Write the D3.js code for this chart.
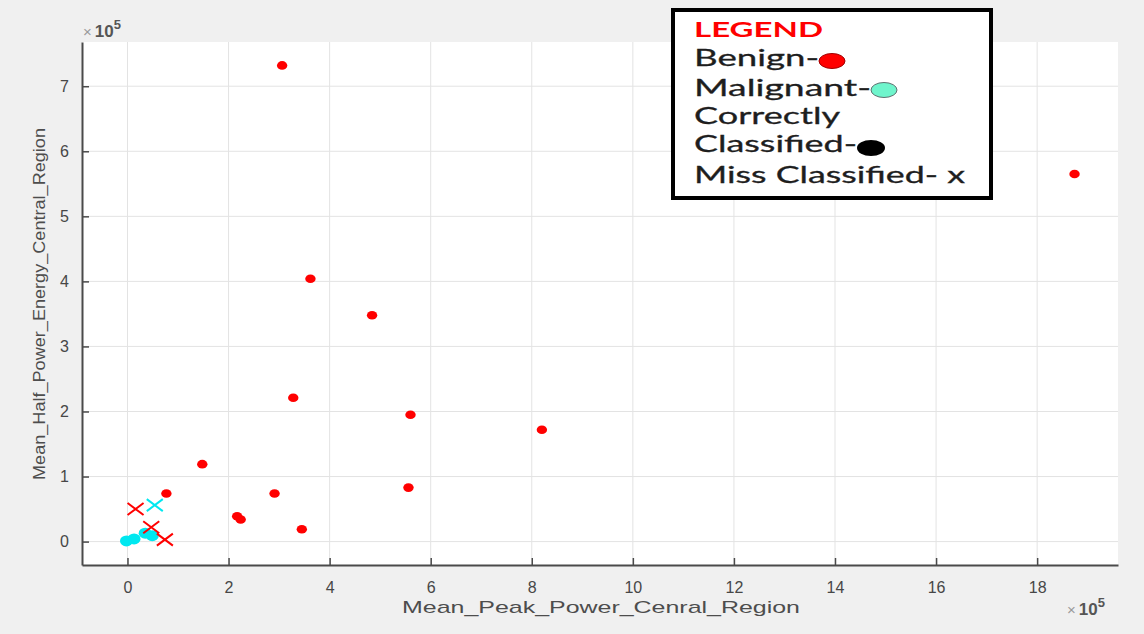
<!DOCTYPE html>
<html><head><meta charset="utf-8">
<script src="https://cdn.jsdelivr.net/npm/d3@7"></script>
<style>
html,body{margin:0;padding:0;background:#f0f0f0;}
svg{display:block;font-family:"Liberation Sans",Arial,sans-serif;}
</style></head>
<body>
<svg id="chart" width="1144" height="634"></svg>
<script>
// ---- data (raw values) ----
const benignX = [306000, 1874000, 362000, 484000, 328000, 560000, 820000, 148000, 77000, 291000, 556000, 217000, 224000, 345000];
const benignY = [732000, 565000, 404000, 348000, 221000, 195000, 172000, 119000, 74000, 74000, 83000, 39000, 34000, 19000];
const benignMissX = [16000, 47000, 74000];
const benignMissY = [50000, 22000, 3000];
const malignantX = [-2000, 13000, 35000, 49000];
const malignantY = [1000, 4000, 13000, 9000];
const malignantMissX = [54000];
const malignantMissY = [56000];
const xTicks = [0, 2, 4, 6, 8, 10, 12, 14, 16, 18];
const yTicks = [0, 1, 2, 3, 4, 5, 6, 7];
const xLabel = "Mean_Peak_Power_Cenral_Region";
const yLabel = "Mean_Half_Power_Energy_Central_Region";
const legendTitle = "LEGEND";
const legendLines = ["Benign-", "Malignant-", "Correctly", "Classified-", "Miss Classified- x"];

const svg = d3.select("#chart");
const L = 82, R = 1118, T = 42, B = 565;
const x = d3.scaleLinear().domain([-0.9e5, 19.6e5]).range([L, R]);
const y = d3.scaleLinear().domain([-0.36e5, 7.68e5]).range([B, T]);

// plot background
svg.append("rect").attr("x", L).attr("y", T).attr("width", R - L).attr("height", B - T).attr("fill", "#ffffff");

// grid
const g = svg.append("g");
g.selectAll(".gx").data(xTicks).join("line")
  .attr("x1", d => x(d * 1e5)).attr("x2", d => x(d * 1e5)).attr("y1", T).attr("y2", B)
  .attr("stroke", "#e3e3e3").attr("stroke-width", 1);
g.selectAll(".gy").data(yTicks).join("line")
  .attr("y1", d => y(d * 1e5)).attr("y2", d => y(d * 1e5)).attr("x1", L).attr("x2", R)
  .attr("stroke", "#e3e3e3").attr("stroke-width", 1);

// axes
const xAxis = d3.axisBottom(x).tickValues(xTicks.map(d => d * 1e5)).tickFormat(d => d / 1e5).tickSizeInner(-7).tickSizeOuter(0).tickPadding(17);
const yAxis = d3.axisLeft(y).tickValues(yTicks.map(d => d * 1e5)).tickFormat(d => d / 1e5).tickSizeInner(-7).tickSizeOuter(0).tickPadding(13);
const gx = svg.append("g").attr("transform", `translate(0,${B})`).call(xAxis);
const gy = svg.append("g").attr("transform", `translate(${L},0)`).call(yAxis);
[gx, gy].forEach(a => {
  a.select(".domain").attr("stroke", "#4a4a4a").attr("stroke-width", 2);
  a.selectAll(".tick line").attr("stroke", "#4a4a4a").attr("stroke-width", 1.5);
  a.selectAll(".tick text").attr("fill", "#474747").attr("font-size", 16).attr("font-family", "Liberation Sans, Arial, sans-serif");
});

// axis labels
svg.append("text").attr("x", 601).attr("y", 613).attr("text-anchor", "middle")
  .attr("font-size", 17).attr("fill", "#4d4d4d").attr("textLength", 398).attr("lengthAdjust", "spacingAndGlyphs").text(xLabel);
svg.append("text").attr("transform", "translate(45,304) rotate(-90)").attr("text-anchor", "middle")
  .attr("font-size", 17).attr("fill", "#4d4d4d").attr("textLength", 352).attr("lengthAdjust", "spacingAndGlyphs").text(yLabel);

// exponent labels
function expo(xp, yp) {
  const t = svg.append("text").attr("x", xp).attr("y", yp).attr("font-size", 17).attr("fill", "#555");
  t.append("tspan").text("\u00d7").attr("fill", "#9a9a9a").attr("font-size", 15);
  t.append("tspan").text("10").attr("dx", 3).attr("font-weight", "bold");
  t.append("tspan").text("5").attr("dy", -8).attr("font-size", 13).attr("font-weight", "bold");
}
expo(83, 37);
expo(1067, 615);

// marks
const dots = svg.append("g");
dots.selectAll(".b").data(benignX.map((v, i) => [v, benignY[i]])).join("ellipse")
  .attr("cx", d => x(d[0])).attr("cy", d => y(d[1])).attr("rx", 5.2).attr("ry", 4.3).attr("fill", "#ff0000");
dots.selectAll(".m").data(malignantX.map((v, i) => [v, malignantY[i]])).join("ellipse")
  .attr("cx", d => x(d[0])).attr("cy", d => y(d[1])).attr("rx", 6.5).attr("ry", 5.5).attr("fill", "#00e8f0");
function cross(xs, ys, color) {
  const data = xs.map((v, i) => [v, ys[i]]);
  dots.selectAll(null).data(data).join("path")
    .attr("d", d => { const cx = x(d[0]), cy = y(d[1]); return `M${cx-8},${cy-6}L${cx+8},${cy+6}M${cx-8},${cy+6}L${cx+8},${cy-6}`; })
    .attr("stroke", color).attr("stroke-width", 2).attr("fill", "none");
}
cross(benignMissX, benignMissY, "#ff0000");
cross(malignantMissX, malignantMissY, "#00e8f0");

// legend
const lg = svg.append("g");
lg.append("rect").attr("x", 673).attr("y", 10).attr("width", 318).attr("height", 188)
  .attr("fill", "#ffffff").attr("stroke", "#000000").attr("stroke-width", 4);
lg.append("text").attr("x", 694).attr("y", 37).attr("font-size", 21).attr("font-weight", "bold")
  .attr("fill", "#ff0000").attr("font-family", "Lato, Open Sans, sans-serif").attr("textLength", 129).attr("lengthAdjust", "spacingAndGlyphs").text(legendTitle);
const lineY = [66, 96, 124, 152, 183];
const lineW = [125, 177, 146, 163, 271];
legendLines.forEach((s, i) => {
  lg.append("text").attr("x", 694).attr("y", lineY[i]).attr("font-size", 23).attr("fill", "#1e1e1e")
    .attr("stroke", "#1e1e1e").attr("stroke-width", 0.3)
    .attr("font-family", "Lato, Open Sans, sans-serif").attr("textLength", lineW[i]).attr("lengthAdjust", "spacingAndGlyphs").text(s);
});
lg.append("ellipse").attr("cx", 832).attr("cy", 61).attr("rx", 13).attr("ry", 7.5).attr("fill", "#ff0000").attr("stroke", "#a00000").attr("stroke-width", 1);
lg.append("ellipse").attr("cx", 884).attr("cy", 90).attr("rx", 13).attr("ry", 7.5).attr("fill", "#6ff5cc").attr("stroke", "#607070").attr("stroke-width", 1);
lg.append("ellipse").attr("cx", 871).attr("cy", 148).attr("rx", 14).attr("ry", 8).attr("fill", "#000000");
</script>
</body></html>
